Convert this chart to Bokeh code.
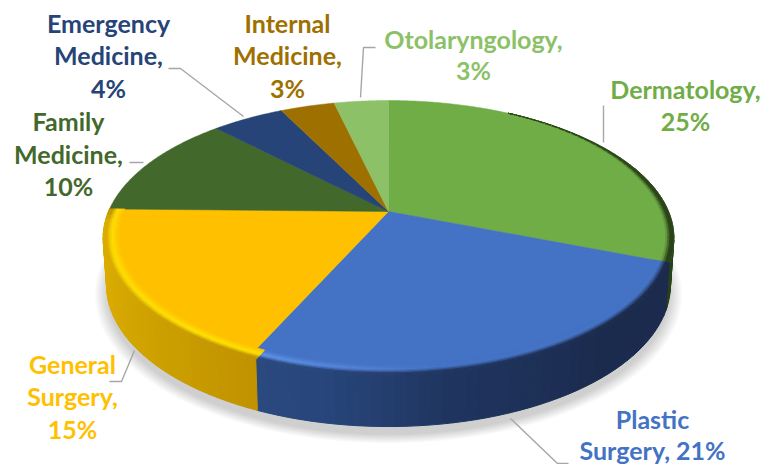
import numpy as np
from bokeh.plotting import figure
from bokeh.models import Range1d
from bokeh.core.properties import value
from bokeh.embed import file_html
from bokeh.resources import INLINE

# ---- data ----
categories = ["Dermatology", "Plastic Surgery", "General Surgery", "Family Medicine",
              "Emergency Medicine", "Internal Medicine", "Otolaryngology"]
percents = [25, 21, 15, 10, 4, 3, 3]
colors = ["#70AD47", "#4472C4", "#FFC000", "#43682B", "#264478", "#9E7000", "#8CC168"]
label_lines = [["Dermatology,", "25%"], ["Plastic", "Surgery, 21%"], ["General", "Surgery,", "15%"],
               ["Family", "Medicine,", "10%"], ["Emergency", "Medicine,", "4%"],
               ["Internal", "Medicine,", "3%"], ["Otolaryngology,", "3%"]]

# ---- layout (page pixels) ----
CX, CY, R, A, B = 388.0, 211.0, 280.0, 132.4, 0.193
DEPTH_MID, DEPTH_FRONT = 46.0, 5.0
TEXT_SHIFT = -8.5
WALL_SPLIT_SHIFT = -1.5
label_pos = [(685, [97, 129]), (652, [427, 458]), (72, [372, 404, 437]), (68, [129, 162, 194]),
             (108, [31, 63, 96]), (287, [31, 63, 96]), (473, [47, 78])]
leaders = [[(603, 105), (603, 142)], [(510, 418), (557, 463), (568, 463)], [(109, 381), (121, 381), (134, 350)],
           [(129, 162), (143, 162)], [(168, 68), (180, 68), (243, 116)], [(375, 47), (363, 47), (360, 97)]]


def proj(theta_deg, rho=1.0, z=0.0):
    t = np.radians(theta_deg)
    u, v = rho * np.sin(t), rho * np.cos(t)
    d = 1 + B * v
    x = CX + R * u / d * (1 - 0.012 * z)
    y = CY - A * v / d + z * (DEPTH_MID - DEPTH_FRONT * np.cos(t))
    return x, y


def rgb(h):
    return np.array([int(h[i:i + 2], 16) for i in (1, 3, 5)], float)


def hexc(c):
    c = np.clip(np.round(c), 0, 255).astype(int)
    return "#%02x%02x%02x" % tuple(c)


def interp_col(th, stops):
    ts = [s[0] for s in stops]
    cs = np.array([rgb(s[1]) for s in stops])
    return np.array([np.interp(th, ts, cs[:, i]) for i in range(3)])


side_stops = {
    0: [(0, "#2F4A1E"), (111, "#2A4219")],
    1: [(111, "#1B2A4D"), (140, "#1B2B4E"), (170, "#1F3560"), (190, "#27457A"), (205, "#2B4A80")],
    2: [(203, "#C29200"), (225, "#CDA000"), (250, "#DAAB00"), (266, "#DDAC00"), (272, "#B89000")],
}
rim_stops = {
    0: [(0, "#70AD47"), (111, "#70AD47")],
    1: [(150, "#4472C4"), (172, "#4472C4"), (188, "#5585DA"), (205, "#5F96F0")],
    2: [(203, "#FFE400"), (272, "#FFDC00")],
}

fracs = np.array(percents, float) / sum(percents)
edges = np.concatenate([[0], np.cumsum(fracs) * 360])
wall_edges = edges.copy()
wall_edges[2] += WALL_SPLIT_SHIFT

fig = figure(width=761, height=464, output_backend="svg", toolbar_location=None,
             x_range=Range1d(0, 761), y_range=Range1d(464, 0), min_border=0)
fig.axis.visible = False
fig.grid.visible = False
fig.outline_line_color = None

# soft shadow
for k in np.linspace(0.042, 0.0, 12):
    ths = np.arange(0, 361, 2.0)
    x, y = proj(ths, 1 + k, 1.16)
    fig.patch(list(x), list(y), fill_color="#000000", fill_alpha=0.016, line_color=None)


def arc_steps(lo, hi, step):
    ths = np.arange(lo, hi + 0.01, step)
    return np.append(ths, hi) if ths[-1] < hi else ths


# side wall
sx, sy, sc = [], [], []
for i in range(3):
    lo, hi = max(wall_edges[i], 70.0), wall_edges[i + 1]
    ths = arc_steps(lo, hi, 2.0)
    for a, b in zip(ths[:-1], ths[1:]):
        x0, y0 = proj(a, 1, 0); x1, y1 = proj(b, 1, 0)
        x2, y2 = proj(b, 1, 1); x3, y3 = proj(a, 1, 1)
        sx.append([x0, x1, x2, x3]); sy.append([y0, y1, y2, y3])
        sc.append(hexc(interp_col((a + b) / 2, side_stops[i])))
fig.patches(sx, sy, fill_color=sc, line_color=sc, line_width=1.0)

# top faces (stop at the inner edge of the bevel on the front slices, so the wall rises to it)
for i in range(len(percents)):
    ths = np.linspace(edges[i], edges[i + 1], max(int(edges[i + 1] - edges[i]) * 2, 4))
    rho = 0.96 if i in (1, 2) else 1.0
    x, y = proj(ths, rho)
    fig.patch([CX] + list(x), [CY] + list(y), fill_color=colors[i], line_color=colors[i], line_width=0.5)

# bevel band
BAND = 0.055
bx, by, bc = [], [], []
n = 8
for i in range(3):
    lo, hi = (30.0 if i == 0 else wall_edges[i]), wall_edges[i + 1]
    ths = arc_steps(lo, hi, 2.0)
    for a, b in zip(ths[:-1], ths[1:]):
        m = (a + b) / 2
        wa = BAND * (np.clip((a - 30) / 45, 0, 1) if i == 0 else 1)
        wb = BAND * (np.clip((b - 30) / 45, 0, 1) if i == 0 else 1)
        top = rgb(colors[i])
        rim = interp_col(m, rim_stops[i])
        side = interp_col(m, side_stops[i])
        for j in range(n):
            s0, s1 = j / n, (j + 1) / n
            s = (s0 + s1) / 2
            if s < 0.5:
                c = top + (rim - top) * s / 0.5
            else:
                c = rim + (side - rim) * min((s - 0.5) / 0.3, 1)
            x0, y0 = proj(a, 1 - wa + wa * s0); x1, y1 = proj(b, 1 - wb + wb * s0)
            x2, y2 = proj(b, 1 - wb + wb * s1); x3, y3 = proj(a, 1 - wa + wa * s1)
            bx.append([x0, x1, x2, x3]); by.append([y0, y1, y2, y3]); bc.append(hexc(c))
fig.patches(bx, by, fill_color=bc, line_color=bc, line_width=0.8)

# leader lines
for pts in leaders:
    fig.line([p[0] for p in pts], [p[1] for p in pts], line_color="#A6A6A6", line_width=1.4)

# labels
for i, lines in enumerate(label_lines):
    cx, ys = label_pos[i]
    fig.text([cx] * len(lines), [y + TEXT_SHIFT for y in ys], text=lines, text_color=colors[i],
             text_font=value("Lato"), text_font_style="bold", text_font_size="25px",
             text_align="center", text_baseline="alphabetic")

open("out.html", "w").write(file_html(fig, INLINE))
